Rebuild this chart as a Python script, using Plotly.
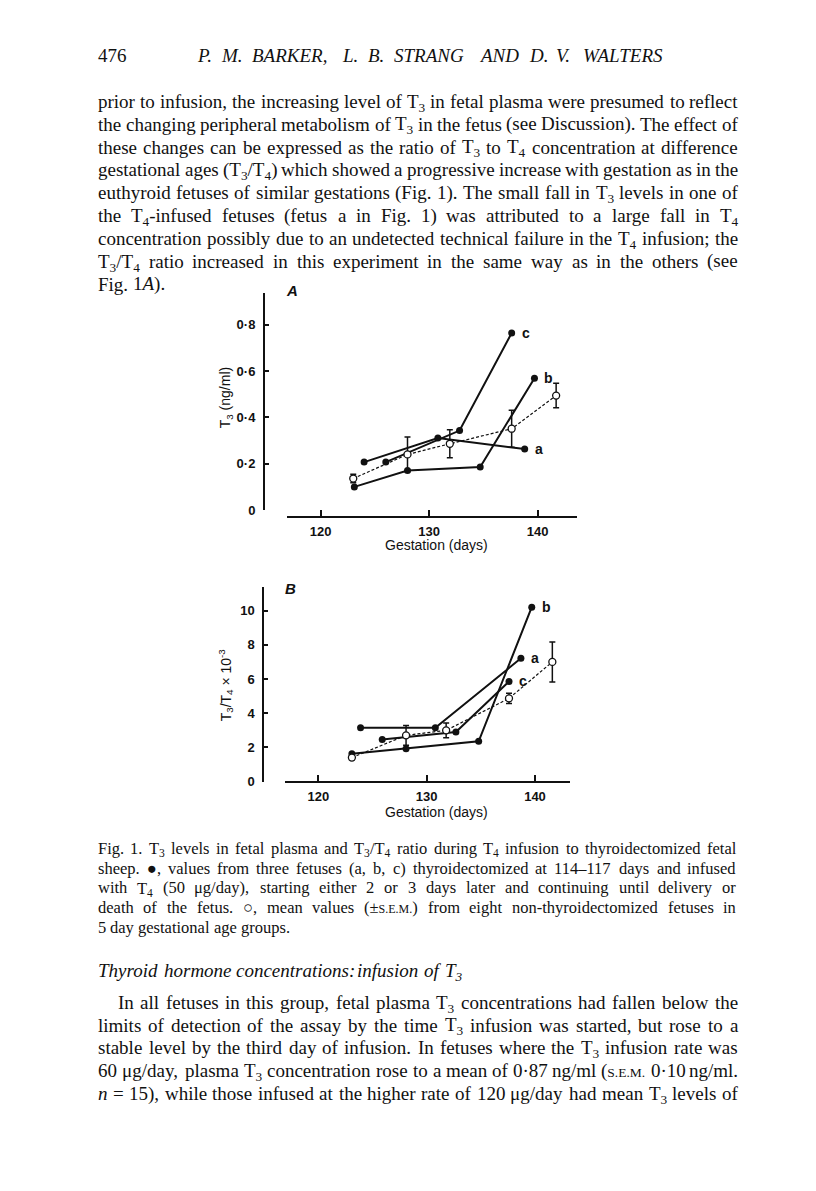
import re
import plotly.graph_objects as go

W, H = 816, 1191
INK = "#111111"

# ---------------- data ----------------
series_names = ["a", "b", "c"]

# Panel A: T3 (ng/ml)
A_a_days = [124.0, 130.8, 138.8]
A_a_t3 = [0.207, 0.311, 0.263]
A_b_days = [123.1, 128.0, 134.7, 139.7]
A_b_t3 = [0.100, 0.171, 0.186, 0.569]
A_c_days = [126.0, 132.8, 137.6]
A_c_t3 = [0.207, 0.343, 0.764]
A_mean_days = [123.0, 128.0, 131.9, 137.6, 141.7]
A_mean_t3 = [0.136, 0.240, 0.286, 0.351, 0.494]
A_mean_sem = [0.018, 0.075, 0.060, 0.080, 0.053]

# Panel B: T3/T4 x 10^-3
B_a_days = [123.9, 130.8, 138.7]
B_a_ratio = [3.15, 3.15, 7.21]
B_b_days = [123.1, 128.1, 134.8, 139.7]
B_b_ratio = [1.64, 1.93, 2.36, 10.2]
B_c_days = [125.9, 132.7, 137.6]
B_c_ratio = [2.46, 2.90, 5.86]
B_mean_days = [123.1, 128.1, 131.8, 137.6, 141.6]
B_mean_ratio = [1.41, 2.71, 3.00, 4.87, 7.00]
B_mean_sem = [0.12, 0.58, 0.43, 0.30, 1.17]

x_tickvals = [120, 130, 140]
A_tickvals = [0, 0.2, 0.4, 0.6, 0.8]
A_ticktext = ["0", "0·2", "0·4", "0·6", "0·8"]
B_tickvals = [0, 2, 4, 6, 8, 10]
B_ticktext = ["0", "2", "4", "6", "8", "10"]

# ---------------- page text ----------------
header_num = "476"
header_names = "P. M. BARKER, L. B. STRANG AND D. V. WALTERS"

body_lines = [
    "prior to infusion, the increasing level of T<sub>3</sub> in fetal plasma were presumed to reflect",
    "the changing peripheral metabolism of T<sub>3</sub> in the fetus (see Discussion). The effect of",
    "these changes can be expressed as the ratio of T<sub>3</sub> to T<sub>4</sub> concentration at difference",
    "gestational ages (T<sub>3</sub>/T<sub>4</sub>) which showed a progressive increase with gestation as in the",
    "euthyroid fetuses of similar gestations (Fig. 1). The small fall in T<sub>3</sub> levels in one of",
    "the T<sub>4</sub>-infused fetuses (fetus a in Fig. 1) was attributed to a large fall in T<sub>4</sub>",
    "concentration possibly due to an undetected technical failure in the T<sub>4</sub> infusion; the",
    "T<sub>3</sub>/T<sub>4</sub> ratio increased in this experiment in the same way as in the others (see",
    "Fig. 1<i>A</i>).",
]

SC_CAP = '<span style="font-size:12px">S.E.M.</span>'
SC_PARA = '<span style="font-size:13.5px">S.E.M.</span>'
caption_lines = [
    "Fig. 1. T<sub>3</sub> levels in fetal plasma and T<sub>3</sub>/T<sub>4</sub> ratio during T<sub>4</sub> infusion to thyroidectomized fetal",
    "sheep. ●, values from three fetuses (a, b, c) thyroidectomized at 114–117 days and infused",
    "with T<sub>4</sub> (50 μg/day), starting either 2 or 3 days later and continuing until delivery or",
    "death of the fetus. ○, mean values (±" + SC_CAP + ") from eight non-thyroidectomized fetuses in",
    "5 day gestational age groups.",
]

subheading = "Thyroid hormone concentrations: infusion of T<sub>3</sub>"

para_lines = [
    "In all fetuses in this group, fetal plasma T<sub>3</sub> concentrations had fallen below the",
    "limits of detection of the assay by the time T<sub>3</sub> infusion was started, but rose to a",
    "stable level by the third day of infusion. In fetuses where the T<sub>3</sub> infusion rate was",
    "60 μg/day, plasma T<sub>3</sub> concentration rose to a mean of 0·87 ng/ml (" + SC_PARA + " 0·10 ng/ml.",
    "<i>n</i> = 15), while those infused at the higher rate of 120 μg/day had mean T<sub>3</sub> levels of",
]

# ---------------- text layout helpers (Times metrics) ----------------
TW = {" ": 250, ".": 250, ",": 250, ";": 278, ":": 278, "(": 333, ")": 333, "/": 278,
      "-": 333, "–": 500, "=": 564, "±": 564, "×": 564, "μ": 576, "·": 250, "●": 604, "○": 604}
for ch, v in zip("abcdefghijklmnopqrstuvwxyz",
                 [444, 500, 444, 500, 444, 333, 500, 500, 278, 278, 500, 278, 778, 500, 500, 500,
                  500, 333, 389, 278, 500, 500, 722, 500, 500, 444]):
    TW[ch] = v
for ch, v in zip("ABCDEFGHIJKLMNOPQRSTUVWXYZ",
                 [722, 667, 667, 722, 611, 556, 722, 722, 333, 389, 722, 611, 889, 722, 722, 556,
                  722, 667, 556, 611, 722, 722, 944, 722, 722, 611]):
    TW[ch] = v
for d in "0123456789":
    TW[d] = 500


def word_width(word, size):
    w = 0.0
    stack = []
    for tok in re.split(r"(<[^>]+>)", word):
        if not tok:
            continue
        if tok.startswith("<"):
            t = tok.lower()
            if t.startswith("<sub") or t.startswith("<sup"):
                stack.append(0.7)
            elif t.startswith("<span"):
                m = re.search(r"font-size:([\d.]+)px", tok)
                stack.append(float(m.group(1)) / size if m else 1.0)
            elif t.startswith("</sub") or t.startswith("</sup") or t.startswith("</span"):
                if stack:
                    stack.pop()
            continue
        s = 1.0
        for v in stack:
            s *= v
        for ch in tok:
            w += TW.get(ch, 500) / 1000.0 * size * s
    return w


annotations = []


def place_line(text, y, x0, x1, size, justify=True, italic=False, family="Liberation Serif"):
    words = re.split(r" (?![^<]*>)", text)
    widths = [word_width(w, size) for w in words]
    if justify and len(words) > 1:
        gap = (x1 - x0 - sum(widths)) / (len(words) - 1)
        gap = max(gap, 0.15 * size)
    else:
        gap = 0.25 * size
    x = x0
    for w, wd in zip(words, widths):
        # a subscript enlarges the text box downward; compensate so baselines agree
        ys = -0.07 * size if "<sub>" in w else 0
        t = "<i>" + w + "</i>" if italic else w
        annotations.append(dict(
            x=x / W, y=1 - y / H, xref="paper", yref="paper", text=t, showarrow=False,
            xanchor="left", yanchor="middle", borderpad=0, yshift=ys,
            font=dict(family=family, size=size, color=INK)))
        x += wd + gap


TEXT_L, TEXT_R = 97, 737

# header
place_line(header_num, 56, TEXT_L, 140, 19, justify=False)
place_line(header_names, 56, 196, 672, 19, justify=True, italic=True)

# body
for i, ln in enumerate(body_lines):
    place_line(ln, 102 + 23.0 * i, TEXT_L, TEXT_R, 19, justify=(i < len(body_lines) - 1))

# caption
for i, ln in enumerate(caption_lines):
    place_line(ln, 854 + 20.0 * i, TEXT_L, 735, 16.5, justify=(i < len(caption_lines) - 1))

# sub-heading
place_line(subheading, 977, TEXT_L, 500, 19, justify=False, italic=True)

# paragraph
for i, ln in enumerate(para_lines):
    place_line(ln, 1009 + 23.0 * i, 117 if i == 0 else TEXT_L, TEXT_R, 19, justify=True)

# ---------------- figure ----------------
fig = go.Figure()


def add_panel(xa, ya, series, mean_days, mean_vals, mean_sem):
    for name, dx, dy in series:
        fig.add_trace(go.Scatter(
            x=dx, y=dy, mode="lines+markers", xaxis=xa, yaxis=ya, cliponaxis=False,
            line=dict(color=INK, width=2), marker=dict(color=INK, size=7),
            hoverinfo="skip"))
        annotations.append(dict(
            x=dx[-1], y=dy[-1], xref=xa, yref=ya, text=name, showarrow=False,
            xanchor="left", yanchor="middle", xshift=8,
            font=dict(family="Liberation Sans", size=14, color=INK, weight="bold")))
    fig.add_trace(go.Scatter(
        x=mean_days, y=mean_vals, mode="lines+markers", xaxis=xa, yaxis=ya, cliponaxis=False,
        line=dict(color=INK, width=1.2, dash="3px,2px"),
        marker=dict(symbol="circle", size=7, color="white", line=dict(color=INK, width=1.3)),
        error_y=dict(type="data", array=mean_sem, visible=True, color=INK, thickness=1.5, width=3),
        hoverinfo="skip"))


add_panel("x", "y",
          [(series_names[0], A_a_days, A_a_t3),
           (series_names[1], A_b_days, A_b_t3),
           (series_names[2], A_c_days, A_c_t3)],
          A_mean_days, A_mean_t3, A_mean_sem)
add_panel("x2", "y2",
          [(series_names[0], B_a_days, B_a_ratio),
           (series_names[1], B_b_days, B_b_ratio),
           (series_names[2], B_c_days, B_c_ratio)],
          B_mean_days, B_mean_ratio, B_mean_sem)

tickfont = dict(family="Liberation Sans", size=13, color=INK, weight="bold")
common_x = dict(anchor="free", showline=True, linecolor=INK, linewidth=2, ticks="inside",
                ticklen=6, tickwidth=1.5, tickcolor=INK, tickvals=x_tickvals, tickfont=tickfont,
                ticklabelstandoff=3, showgrid=False, zeroline=False)
common_y = dict(anchor="free", side="left", showline=True, linecolor=INK, linewidth=2,
                ticks="inside", ticklen=4, tickwidth=1.5, tickcolor=INK, tickfont=tickfont,
                ticklabelstandoff=5, showgrid=False, zeroline=False)

# Panel A geometry: 120 d at x=320.7px, 10.85 px/day; 0 at y=513.5px, 233.3 px/unit
A_px_day, A_x120 = 10.85, 320.7
A_px_unit, A_y0 = 233.3, 513.5
fig.update_layout(
    xaxis=dict(domain=[287.3 / W, 576.7 / W],
               range=[120 + (287.3 - A_x120) / A_px_day, 120 + (576.7 - A_x120) / A_px_day],
               position=1 - 520 / H, **common_x),
    yaxis=dict(domain=[1 - A_y0 / H, 1 - 295 / H],
               range=[0, (A_y0 - 295) / A_px_unit], position=264 / W,
               tickvals=A_tickvals, ticktext=A_ticktext, **common_y),
)
# Panel B geometry
B_px_day, B_x120 = 10.835, 318.3
B_px_unit, B_y0 = 17.23, 787.0
fig.update_layout(
    xaxis2=dict(domain=[285 / W, 570 / W],
                range=[120 + (285 - B_x120) / B_px_day, 120 + (570 - B_x120) / B_px_day],
                position=1 - 787.0 / H, **common_x),
    yaxis2=dict(domain=[1 - B_y0 / H, 1 - 591 / H],
                range=[0, (B_y0 - 591) / B_px_unit], position=263.3 / W,
                tickvals=B_tickvals, ticktext=B_ticktext, **common_y),
)

sans = dict(family="Liberation Sans", color=INK)


def lab(x, y, text, size, angle=0, weight="normal"):
    return dict(x=x / W, y=1 - y / H, xref="paper", yref="paper", text=text,
                textangle=angle, showarrow=False, xanchor="center", yanchor="middle",
                font=dict(size=size, weight=weight, **sans))


annotations += [
    lab(436, 549, "Gestation (days)", 14),
    lab(436, 817, "Gestation (days)", 14),
    lab(226, 401, "T<sub>3</sub> (ng/ml)", 14, angle=-90),
    lab(226, 690, "T<sub>3</sub>/T<sub>4</sub> × 10<sup>-3</sup>", 14, angle=-90),
    lab(292, 292, "<i>A</i>", 15, weight="bold"),
    lab(290, 592, "<i>B</i>", 15, weight="bold"),
]

fig.update_layout(
    width=W, height=H, margin=dict(l=0, r=0, t=0, b=0),
    paper_bgcolor="white", plot_bgcolor="rgba(0,0,0,0)",
    showlegend=False, annotations=annotations,
    font=dict(family="Liberation Sans", color=INK),
)

fig.write_html("out.html", config={"displayModeBar": False},
               post_script="document.body.style.margin='0px';document.body.style.overflow='hidden';")
